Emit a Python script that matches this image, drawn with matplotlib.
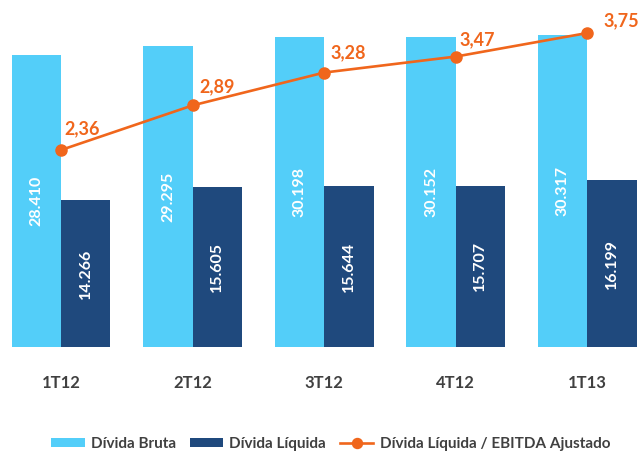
import numpy as np
import matplotlib
matplotlib.use('Agg')
from matplotlib import pyplot as plt

plt.rcParams['font.family'] = ['Lato', 'DejaVu Sans']

# dados
trimestres = ['1T12', '2T12', '3T12', '4T12', '1T13']
divida_bruta = [28410, 29295, 30198, 30152, 30317]
divida_liquida = [14266, 15605, 15644, 15707, 16199]
div_ebitda = [2.36, 2.89, 3.28, 3.47, 3.75]

# cores
azul_claro = '#53CEF9'
azul_escuro = '#1F497D'
laranja = '#F0661C'
cinza = '#404040'

fig = plt.figure(figsize=(6.38, 4.51), dpi=100)
ax = fig.add_axes([0, 0.2306, 1, 0.7694])
ax2 = ax.twinx()

x = np.arange(len(trimestres))
w = 0.375

b1 = ax.bar(x - w/2, divida_bruta, w, color=azul_claro, label='Dívida Bruta', zorder=2)
b2 = ax.bar(x + w/2, divida_liquida, w, color=azul_escuro, label='Dívida Líquida', zorder=2)

# rotulos dentro das barras
for barras, vals in ((b1, divida_bruta), (b2, divida_liquida)):
    for r, v in zip(barras, vals):
        ax.text(r.get_x() + r.get_width()/2, v/2, f'{v:,}'.replace(',', '.'),
                rotation=90, ha='center', va='center', color='white',
                fontsize=11.5, fontweight='bold')

l1, = ax2.plot(x, div_ebitda, color=laranja, lw=1.9, marker='o', markersize=8,
               label='Dívida Líquida / EBITDA Ajustado', zorder=3)

# deslocamentos dos rotulos da linha (px)
offs = [(3, 21), (7, 19), (6, 20), (4, 17), (16, 12)]
for xi, v, (dx, dy) in zip(x, div_ebitda, offs):
    ax2.annotate(f'{v:.2f}'.replace('.', ','), (xi, v), xytext=(dx*0.72, dy*0.72),
                 textcoords='offset points', ha='left', va='center',
                 color=laranja, fontsize=13, fontweight='bold')

ax.set_xlim(-0.4635, 4.385)
ax.set_ylim(0, 33755)
ax2.set_ylim(0.02, 4.142)

ax.set_xticks(x)
ax.set_xticklabels(trimestres, fontsize=12, fontweight='bold', color=cinza)
ax.tick_params(axis='x', length=0, pad=20)
ax.set_yticks([])
ax2.set_yticks([])
for a in (ax, ax2):
    for s in a.spines.values():
        s.set_visible(False)

fig.legend(handles=[b1, b2, l1], loc='center', bbox_to_anchor=(0.518, 0.016),
           ncol=3, frameon=False, handlelength=2.2, handleheight=0.6,
           handletextpad=0.4, columnspacing=0.9, markerscale=0.9,
           prop={'weight': 'bold', 'size': 11}, labelcolor=cinza)

plt.savefig('out.png', dpi=100)
